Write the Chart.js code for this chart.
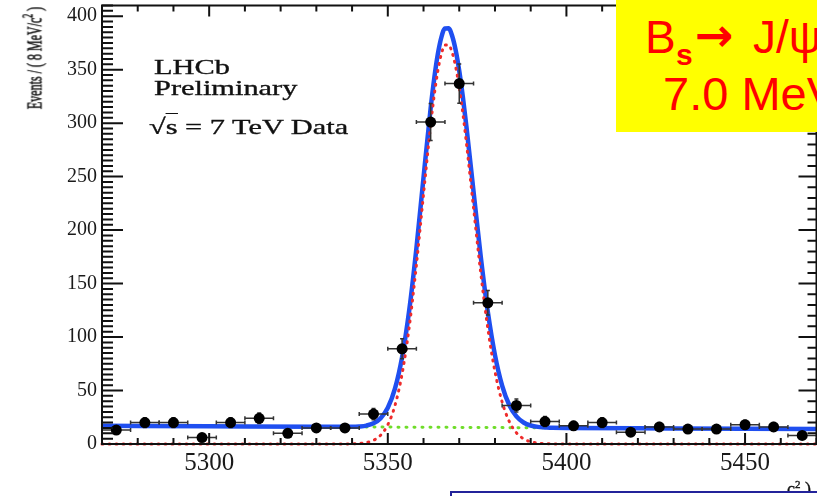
<!DOCTYPE html>
<html>
<head>
<meta charset="utf-8">
<script src="https://cdn.jsdelivr.net/npm/chart.js@4"></script>
<style>
  html, body { margin: 0; padding: 0; background: #fff; overflow: hidden; }
  #wrap { position: relative; width: 817px; height: 496px; overflow: hidden; }
  #c { position: absolute; left: 0; top: 0; }
  .t { position: absolute; white-space: nowrap; }
  .serif { font-family: "Liberation Serif", "Times New Roman", serif; color: #111; -webkit-text-stroke: 0.35px #111; }
  .lh { font-size: 22px; line-height: 22px; transform-origin: 0 0; transform: scaleX(1.38); }
  .sans { font-family: "Liberation Sans", Arial, sans-serif; color: #ff0000; }
</style>
</head>
<body>
<div id="wrap">
  <canvas id="c" width="822" height="496"></canvas>

  <div class="t serif lh" style="left:154px; top:56px;">LHCb</div>
  <div class="t serif lh" style="left:154px; top:77px;">Preliminary</div>
  <div class="t serif lh" style="left:149px; top:116px;">√<span style="border-top:1.5px solid #111;">s</span> = 7 TeV Data</div>

  <div class="t serif" style="left:32px; top:58px; font-size:12px; line-height:12px; transform: translate(-50%,-50%) rotate(-90deg) scaleY(1.8);">Events / ( 8 MeV/c<sup style="font-size:8px;">2</sup> )</div>

  <div class="t serif" style="left:787px; top:475px; font-size:18px; line-height:18px;">c<sup style="font-size:11px;">2</sup> )</div>

  <div style="position:absolute; left:616px; top:0; width:220px; height:132px; background:#ffff00; overflow:hidden;"></div>
  <div class="t sans" style="left:645px; top:14px; font-size:46px; line-height:46px;">B</div>
  <div class="t sans" style="left:676px; top:40px; font-size:30px; line-height:30px; font-weight:bold;">s</div>
  <div class="t" style="left:695px; top:12px; font-size:46px; line-height:46px; color:#ff0000; font-weight:bold; font-family:'DejaVu Sans', sans-serif;">→</div>
  <div class="t sans" style="left:753px; top:14px; font-size:46px; line-height:46px;">J/ψ</div>
  <div class="t sans" style="left:663px; top:71px; font-size:47px; line-height:46px;">7.0 MeV</div>

  <div style="position:absolute; left:450px; top:491px; width:420px; height:40px; background:#fff; border:2px solid #23239a;"></div>
</div>

<script>
// ---- data ----
const binCenters = [5274, 5282, 5290, 5298, 5306, 5314, 5322, 5330, 5338, 5346, 5354, 5362, 5370,
                    5378, 5386, 5394, 5402, 5410, 5418, 5426, 5434, 5442, 5450, 5458, 5466];
const events     = [13, 20, 20, 6, 20, 24, 10, 15, 15, 28, 89, 301, 337,
                    132, 36, 21, 17, 20, 11, 16, 14, 14, 18, 16, 8];
const eventErr   = [3.6, 4.5, 4.5, 2.4, 4.5, 4.9, 3.2, 3.9, 3.9, 5.3, 9.4, 17.3, 18.4,
                    11.5, 6.0, 4.6, 4.1, 4.5, 3.3, 4.0, 3.7, 3.7, 4.2, 4.0, 2.8];
const binWidth = 8;

const curveMass = [5270, 5300, 5330, 5340, 5342, 5344, 5346, 5348, 5350, 5352, 5354, 5356, 5358, 5360,
                   5362, 5363, 5364, 5365, 5366, 5367, 5368, 5369, 5370, 5371, 5372, 5374, 5376, 5378,
                   5380, 5382, 5384, 5386, 5388, 5390, 5392, 5394, 5396, 5400, 5430, 5470];
const totalFit  = [17.0, 16.6, 16.1, 16.1, 16.4, 17.2, 19.3, 24.1, 33.8, 51.7, 81.3, 125.2, 182.9, 249.3,
                   314.1, 341.9, 364.5, 380.3, 388.6, 388.7, 381.7, 368.2, 348.9, 324.8, 297.1, 236.1, 175.8, 123.5,
                   83.1, 54.6, 36.4, 25.8, 20.1, 17.3, 16.0, 15.5, 15.1, 15.05, 14.6, 14.0];
const signalFit = [0, 0, 0, 0.15, 0.47, 1.33, 3.47, 8.27, 18.0, 35.9, 65.6, 109.5, 167.2, 233.6,
                   298.5, 326.3, 348.9, 364.7, 373.0, 373.1, 366.2, 352.7, 333.4, 309.3, 281.6, 220.7, 160.4, 108.1,
                   67.7, 39.3, 21.1, 10.5, 4.9, 2.1, 0.84, 0.31, 0.1, 0, 0, 0];
const bkgMass = [5270, 5470];
const bkgFit  = [17, 14];

const xRange = [5270, 5470];
const yRange = [0, 410];
const xTickValues = [5300, 5350, 5400, 5450];
const yTickValues = [0, 50, 100, 150, 200, 250, 300, 350, 400];
const xMinorStep = 10, yMinorStepLeft = 5, yMinorStepRight = 10;

const pts = (xs, ys) => xs.map((v, i) => ({x: v, y: ys[i]}));

const decor = {
  id: 'decor',
  beforeDatasetDraw(chart, args) {
    if (args.index !== 3) return;
    const {ctx, scales: {x, y}} = chart;
    ctx.save();
    ctx.strokeStyle = '#333';
    ctx.lineWidth = 1.5;
    binCenters.forEach((m, i) => {
      const cx = x.getPixelForValue(m), cy = y.getPixelForValue(events[i]);
      const x1 = x.getPixelForValue(m - binWidth / 2), x2 = x.getPixelForValue(m + binWidth / 2);
      const y1 = y.getPixelForValue(events[i] - eventErr[i]), y2 = y.getPixelForValue(events[i] + eventErr[i]);
      ctx.beginPath();
      ctx.moveTo(x1, cy); ctx.lineTo(x2, cy);
      ctx.moveTo(x1, cy - 2); ctx.lineTo(x1, cy + 2);
      ctx.moveTo(x2, cy - 2); ctx.lineTo(x2, cy + 2);
      ctx.moveTo(cx, y1); ctx.lineTo(cx, y2);
      ctx.moveTo(cx - 2, y1); ctx.lineTo(cx + 2, y1);
      ctx.moveTo(cx - 2, y2); ctx.lineTo(cx + 2, y2);
      ctx.stroke();
    });
    ctx.restore();
  },
  afterDraw(chart) {
    const {ctx, chartArea: a, scales: {x, y}} = chart;
    ctx.save();
    ctx.strokeStyle = '#111';
    ctx.lineWidth = 2;
    ctx.strokeRect(a.left, a.top, a.right - a.left, a.bottom - a.top);
    ctx.beginPath();
    for (let v = xRange[0]; v <= xRange[1]; v += xMinorStep) {
      const px = x.getPixelForValue(v);
      const len = xTickValues.includes(v) ? 11 : 6;
      ctx.moveTo(px, a.bottom); ctx.lineTo(px, a.bottom - len);
      ctx.moveTo(px, a.top); ctx.lineTo(px, a.top + len);
    }
    for (let v = yRange[0]; v <= yRange[1]; v += yMinorStepLeft) {
      const py = y.getPixelForValue(v);
      const len = yTickValues.includes(v) ? 21 : 11;
      ctx.moveTo(a.left, py); ctx.lineTo(a.left + len, py);
    }
    for (let v = yRange[0]; v <= yRange[1]; v += yMinorStepRight) {
      const py = y.getPixelForValue(v);
      const len = yTickValues.includes(v) ? 18 : 9;
      ctx.moveTo(a.right, py); ctx.lineTo(a.right - len, py);
    }
    ctx.stroke();
    ctx.restore();
  }
};

new Chart(document.getElementById('c'), {
  type: 'scatter',
  data: {
    datasets: [
      { data: pts(bkgMass, bkgFit), showLine: true, borderColor: '#6fdc2a', borderWidth: 3,
        borderDash: [1, 7], borderCapStyle: 'round', pointRadius: 0, order: 4 },
      { data: pts(curveMass, totalFit), showLine: true, borderColor: '#1f4ff0', borderWidth: 4.5,
        cubicInterpolationMode: 'monotone', pointRadius: 0, order: 3 },
      { data: pts(curveMass, signalFit), showLine: true, borderColor: '#ee2c2c', borderWidth: 3,
        borderDash: [1, 6], borderCapStyle: 'round', cubicInterpolationMode: 'monotone',
        pointRadius: 0, order: 2, clip: {left: 5, top: 5, right: 5, bottom: 5} },
      { data: pts(binCenters, events), showLine: false, pointRadius: 5.5, pointBackgroundColor: '#000',
        pointBorderColor: '#000', pointBorderWidth: 0, order: 1, clip: false }
    ]
  },
  options: {
    responsive: false,
    animation: false,
    events: [],
    layout: { padding: { top: 4, right: 4, left: 0, bottom: 0 } },
    plugins: { legend: { display: false }, tooltip: { enabled: false } },
    scales: {
      x: {
        type: 'linear', min: xRange[0], max: xRange[1],
        grid: { display: false, drawTicks: false }, border: { display: false },
        afterBuildTicks: s => { s.ticks = xTickValues.map(v => ({ value: v })); },
        afterFit: s => { s.height = 52; s.paddingLeft = 0; s.paddingRight = 0; },
        ticks: { padding: 4, color: '#1a1a1a', maxRotation: 0, callback: v => String(v),
                 font: { family: 'Liberation Serif', size: 25 } }
      },
      y: {
        type: 'linear', min: yRange[0], max: yRange[1],
        grid: { display: false, drawTicks: false }, border: { display: false },
        afterBuildTicks: s => { s.ticks = yTickValues.map(v => ({ value: v })); },
        afterFit: s => { s.width = 102; s.paddingTop = 0; s.paddingBottom = 0; },
        ticks: { padding: 5, color: '#1a1a1a', callback: v => String(v),
                 font: { family: 'Liberation Serif', size: 20 } }
      }
    }
  },
  plugins: [decor]
});
</script>
</body>
</html>
